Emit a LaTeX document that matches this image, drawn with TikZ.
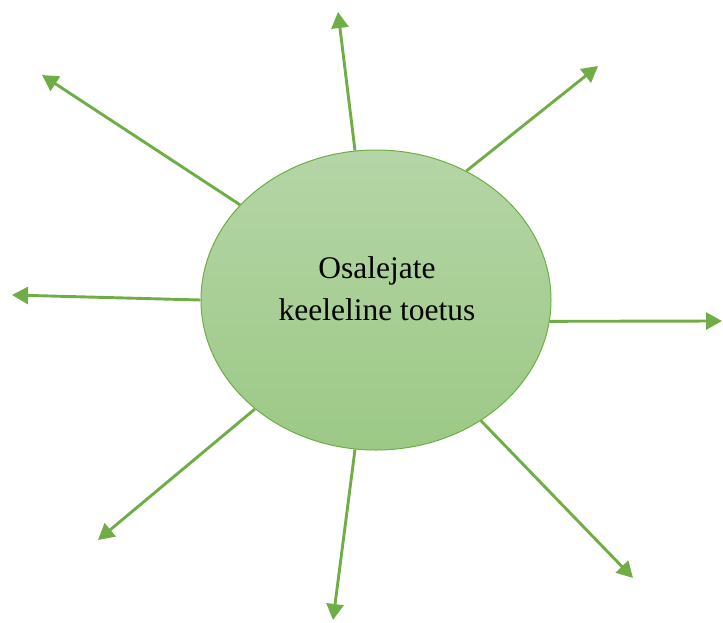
\documentclass[tikz,border=0pt]{standalone}
\usepackage{fontspec}
\setmainfont{Liberation Serif}
\usetikzlibrary{shapes.geometric,arrows.meta}
\definecolor{leafgreen}{HTML}{70AD47}
\definecolor{filltop}{HTML}{B5D5A6}
\definecolor{fillbottom}{HTML}{9CC986}
\tikzset{
  hub/.style={ellipse, draw=leafgreen, line width=1pt, inner sep=0pt,
    minimum width=350pt, minimum height=300pt,
    top color=filltop, bottom color=fillbottom},
  hubtext/.style={align=center, inner sep=0pt,
    font=\fontsize{31.5}{42}\selectfont},
  spoke/.style={draw=leafgreen, line width=2.9pt,
    -{Triangle[length=16pt,width=17pt]}}
}
\begin{document}
\begin{tikzpicture}[x=1pt,y=-1pt]
  \useasboundingbox (0,0) rectangle (723,622);
  \node[hub] (c) at (376,300) {};
  \node[hubtext] (t) at (377,289) {Osalejate\\keeleline toetus};
  % free ends of the spokes
  \coordinate (n)  at (338,12);
  \coordinate (ne) at (598,66);
  \coordinate (e)  at (722,321);
  \coordinate (se) at (633,578);
  \coordinate (s)  at (333,620);
  \coordinate (sw) at (98,540);
  \coordinate (w)  at (12,295);
  \coordinate (nw) at (42,75);
  \draw[spoke] (c.98)    -- (n);
  \draw[spoke] (c.55)    -- (ne);
  \draw[spoke] (c.-7.8)  -- (e);
  \draw[spoke] (c.-49.9) -- (se);
  \draw[spoke] (c.-98)   -- (s);
  \draw[spoke] (c.-138.9)-- (sw);
  \draw[spoke] (c.180.3) -- (w);
  \draw[spoke] (c.145.7) -- (nw);
\end{tikzpicture}
\end{document}
